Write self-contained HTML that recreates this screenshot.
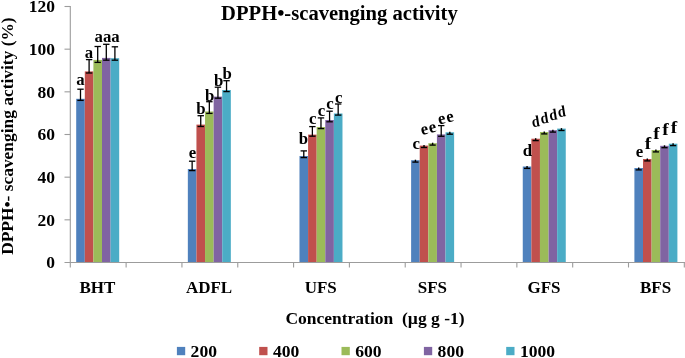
<!DOCTYPE html><html><head><meta charset="utf-8"><style>html,body{margin:0;padding:0;background:#fff;overflow:hidden;width:685px;height:358px;}svg{display:block;will-change:transform;}</style></head><body>
<svg width="685" height="358" viewBox="0 0 685 358">
<rect width="685" height="358" fill="#fff"/>
<rect x="76.20" y="98.80" width="8.60" height="163.70" fill="#4F81BD"/>
<rect x="84.80" y="71.40" width="8.60" height="191.10" fill="#C0504D"/>
<rect x="93.40" y="59.90" width="8.60" height="202.60" fill="#9BBB59"/>
<rect x="102.00" y="57.90" width="8.60" height="204.60" fill="#8064A2"/>
<rect x="110.60" y="58.20" width="8.60" height="204.30" fill="#4BACC6"/>
<rect x="187.84" y="169.00" width="8.60" height="93.50" fill="#4F81BD"/>
<rect x="196.44" y="124.60" width="8.60" height="137.90" fill="#C0504D"/>
<rect x="205.04" y="111.50" width="8.60" height="151.00" fill="#9BBB59"/>
<rect x="213.64" y="96.60" width="8.60" height="165.90" fill="#8064A2"/>
<rect x="222.24" y="90.00" width="8.60" height="172.50" fill="#4BACC6"/>
<rect x="299.48" y="156.00" width="8.60" height="106.50" fill="#4F81BD"/>
<rect x="308.08" y="134.60" width="8.60" height="127.90" fill="#C0504D"/>
<rect x="316.68" y="127.00" width="8.60" height="135.50" fill="#9BBB59"/>
<rect x="325.28" y="120.00" width="8.60" height="142.50" fill="#8064A2"/>
<rect x="333.88" y="113.50" width="8.60" height="149.00" fill="#4BACC6"/>
<rect x="411.12" y="160.20" width="8.60" height="102.30" fill="#4F81BD"/>
<rect x="419.72" y="145.60" width="8.60" height="116.90" fill="#C0504D"/>
<rect x="428.32" y="143.20" width="8.60" height="119.30" fill="#9BBB59"/>
<rect x="436.92" y="134.40" width="8.60" height="128.10" fill="#8064A2"/>
<rect x="445.52" y="132.30" width="8.60" height="130.20" fill="#4BACC6"/>
<rect x="522.76" y="166.50" width="8.60" height="96.00" fill="#4F81BD"/>
<rect x="531.36" y="138.70" width="8.60" height="123.80" fill="#C0504D"/>
<rect x="539.96" y="132.00" width="8.60" height="130.50" fill="#9BBB59"/>
<rect x="548.56" y="130.20" width="8.60" height="132.30" fill="#8064A2"/>
<rect x="557.16" y="128.60" width="8.60" height="133.90" fill="#4BACC6"/>
<rect x="634.40" y="168.00" width="8.60" height="94.50" fill="#4F81BD"/>
<rect x="643.00" y="159.00" width="8.60" height="103.50" fill="#C0504D"/>
<rect x="651.60" y="150.00" width="8.60" height="112.50" fill="#9BBB59"/>
<rect x="660.20" y="145.80" width="8.60" height="116.70" fill="#8064A2"/>
<rect x="668.80" y="143.70" width="8.60" height="118.80" fill="#4BACC6"/>
<g stroke="#9c9c9c" stroke-width="1.1" fill="none">
<line x1="70.3" y1="6" x2="70.3" y2="267.5"/>
<line x1="64.5" y1="262.5" x2="685" y2="262.5"/>
<line x1="64.5" y1="219.83" x2="70.3" y2="219.83"/>
<line x1="64.5" y1="177.17" x2="70.3" y2="177.17"/>
<line x1="64.5" y1="134.50" x2="70.3" y2="134.50"/>
<line x1="64.5" y1="91.83" x2="70.3" y2="91.83"/>
<line x1="64.5" y1="49.17" x2="70.3" y2="49.17"/>
<line x1="64.5" y1="6.50" x2="70.3" y2="6.50"/>
<line x1="126.12" y1="262.5" x2="126.12" y2="267.5"/>
<line x1="181.94" y1="262.5" x2="181.94" y2="267.5"/>
<line x1="237.76" y1="262.5" x2="237.76" y2="267.5"/>
<line x1="293.58" y1="262.5" x2="293.58" y2="267.5"/>
<line x1="349.40" y1="262.5" x2="349.40" y2="267.5"/>
<line x1="405.22" y1="262.5" x2="405.22" y2="267.5"/>
<line x1="461.04" y1="262.5" x2="461.04" y2="267.5"/>
<line x1="516.86" y1="262.5" x2="516.86" y2="267.5"/>
<line x1="572.68" y1="262.5" x2="572.68" y2="267.5"/>
<line x1="628.50" y1="262.5" x2="628.50" y2="267.5"/>
<line x1="684.32" y1="262.5" x2="684.32" y2="267.5"/>
</g>
<g stroke="#000" stroke-width="1.3" fill="none">
<line x1="80.50" y1="89.20" x2="80.50" y2="100.40"/>
<line x1="77.30" y1="89.20" x2="83.70" y2="89.20"/>
<line x1="77.30" y1="100.40" x2="83.70" y2="100.40"/>
<line x1="89.10" y1="59.60" x2="89.10" y2="73.00"/>
<line x1="85.90" y1="59.60" x2="92.30" y2="59.60"/>
<line x1="85.90" y1="73.00" x2="92.30" y2="73.00"/>
<line x1="97.70" y1="46.50" x2="97.70" y2="62.40"/>
<line x1="94.50" y1="46.50" x2="100.90" y2="46.50"/>
<line x1="94.50" y1="62.40" x2="100.90" y2="62.40"/>
<line x1="106.30" y1="44.30" x2="106.30" y2="60.20"/>
<line x1="103.10" y1="44.30" x2="109.50" y2="44.30"/>
<line x1="103.10" y1="60.20" x2="109.50" y2="60.20"/>
<line x1="114.90" y1="46.80" x2="114.90" y2="60.20"/>
<line x1="111.70" y1="46.80" x2="118.10" y2="46.80"/>
<line x1="111.70" y1="60.20" x2="118.10" y2="60.20"/>
<line x1="192.14" y1="161.20" x2="192.14" y2="170.60"/>
<line x1="188.94" y1="161.20" x2="195.34" y2="161.20"/>
<line x1="188.94" y1="170.60" x2="195.34" y2="170.60"/>
<line x1="200.74" y1="115.70" x2="200.74" y2="126.50"/>
<line x1="197.54" y1="115.70" x2="203.94" y2="115.70"/>
<line x1="197.54" y1="126.50" x2="203.94" y2="126.50"/>
<line x1="209.34" y1="101.70" x2="209.34" y2="113.40"/>
<line x1="206.14" y1="101.70" x2="212.54" y2="101.70"/>
<line x1="206.14" y1="113.40" x2="212.54" y2="113.40"/>
<line x1="217.94" y1="87.20" x2="217.94" y2="98.20"/>
<line x1="214.74" y1="87.20" x2="221.14" y2="87.20"/>
<line x1="214.74" y1="98.20" x2="221.14" y2="98.20"/>
<line x1="226.54" y1="80.70" x2="226.54" y2="91.60"/>
<line x1="223.34" y1="80.70" x2="229.74" y2="80.70"/>
<line x1="223.34" y1="91.60" x2="229.74" y2="91.60"/>
<line x1="303.78" y1="150.90" x2="303.78" y2="157.60"/>
<line x1="300.58" y1="150.90" x2="306.98" y2="150.90"/>
<line x1="300.58" y1="157.60" x2="306.98" y2="157.60"/>
<line x1="312.38" y1="126.60" x2="312.38" y2="136.20"/>
<line x1="309.18" y1="126.60" x2="315.58" y2="126.60"/>
<line x1="309.18" y1="136.20" x2="315.58" y2="136.20"/>
<line x1="320.98" y1="117.90" x2="320.98" y2="128.60"/>
<line x1="317.78" y1="117.90" x2="324.18" y2="117.90"/>
<line x1="317.78" y1="128.60" x2="324.18" y2="128.60"/>
<line x1="329.58" y1="111.20" x2="329.58" y2="121.80"/>
<line x1="326.38" y1="111.20" x2="332.78" y2="111.20"/>
<line x1="326.38" y1="121.80" x2="332.78" y2="121.80"/>
<line x1="338.18" y1="104.00" x2="338.18" y2="115.10"/>
<line x1="334.98" y1="104.00" x2="341.38" y2="104.00"/>
<line x1="334.98" y1="115.10" x2="341.38" y2="115.10"/>
<line x1="415.42" y1="159.70" x2="415.42" y2="162.00" stroke-width="1.4"/>
<line x1="412.32" y1="162.10" x2="418.52" y2="162.10" stroke-width="1.35"/>
<line x1="424.02" y1="145.10" x2="424.02" y2="147.40" stroke-width="1.4"/>
<line x1="420.92" y1="147.50" x2="427.12" y2="147.50" stroke-width="1.35"/>
<line x1="432.62" y1="142.70" x2="432.62" y2="145.00" stroke-width="1.4"/>
<line x1="429.52" y1="145.10" x2="435.72" y2="145.10" stroke-width="1.35"/>
<line x1="441.22" y1="125.60" x2="441.22" y2="136.30"/>
<line x1="438.02" y1="125.60" x2="444.42" y2="125.60"/>
<line x1="438.02" y1="136.30" x2="444.42" y2="136.30"/>
<line x1="449.82" y1="131.80" x2="449.82" y2="134.10" stroke-width="1.4"/>
<line x1="446.72" y1="134.20" x2="452.92" y2="134.20" stroke-width="1.35"/>
<line x1="527.06" y1="166.00" x2="527.06" y2="168.30" stroke-width="1.4"/>
<line x1="523.96" y1="168.40" x2="530.16" y2="168.40" stroke-width="1.35"/>
<line x1="535.66" y1="138.20" x2="535.66" y2="140.50" stroke-width="1.4"/>
<line x1="532.56" y1="140.60" x2="538.76" y2="140.60" stroke-width="1.35"/>
<line x1="544.26" y1="131.50" x2="544.26" y2="133.80" stroke-width="1.4"/>
<line x1="541.16" y1="133.90" x2="547.36" y2="133.90" stroke-width="1.35"/>
<line x1="552.86" y1="129.70" x2="552.86" y2="132.00" stroke-width="1.4"/>
<line x1="549.76" y1="132.10" x2="555.96" y2="132.10" stroke-width="1.35"/>
<line x1="561.46" y1="128.10" x2="561.46" y2="130.40" stroke-width="1.4"/>
<line x1="558.36" y1="130.50" x2="564.56" y2="130.50" stroke-width="1.35"/>
<line x1="638.70" y1="167.50" x2="638.70" y2="169.80" stroke-width="1.4"/>
<line x1="635.60" y1="169.90" x2="641.80" y2="169.90" stroke-width="1.35"/>
<line x1="647.30" y1="158.50" x2="647.30" y2="160.80" stroke-width="1.4"/>
<line x1="644.20" y1="160.90" x2="650.40" y2="160.90" stroke-width="1.35"/>
<line x1="655.90" y1="149.50" x2="655.90" y2="151.80" stroke-width="1.4"/>
<line x1="652.80" y1="151.90" x2="659.00" y2="151.90" stroke-width="1.35"/>
<line x1="664.50" y1="145.30" x2="664.50" y2="147.60" stroke-width="1.4"/>
<line x1="661.40" y1="147.70" x2="667.60" y2="147.70" stroke-width="1.35"/>
<line x1="673.10" y1="143.20" x2="673.10" y2="145.50" stroke-width="1.4"/>
<line x1="670.00" y1="145.60" x2="676.20" y2="145.60" stroke-width="1.35"/>
</g>
<g font-family="'Liberation Serif', serif" font-weight="bold" font-size="17.5" fill="#000" text-anchor="end">
<text x="55.0" y="268.30">0</text>
<text x="55.0" y="225.63">20</text>
<text x="55.0" y="182.97">40</text>
<text x="55.0" y="140.30">60</text>
<text x="55.0" y="97.63">80</text>
<text x="55.0" y="54.97">100</text>
<text x="55.0" y="12.30">120</text>
</g>
<g font-family="'Liberation Serif', serif" font-weight="bold" font-size="17" fill="#000" text-anchor="middle">
<text x="97.41" y="293">BHT</text>
<text x="209.05" y="293">ADFL</text>
<text x="320.69" y="293">UFS</text>
<text x="432.33" y="293">SFS</text>
<text x="543.97" y="293">GFS</text>
<text x="655.61" y="293">BFS</text>
</g>
<g font-family="'Liberation Serif', serif" font-weight="bold" font-size="16.8" fill="#000" text-anchor="middle">
<text x="80.5" y="85.1">a</text>
<text x="88.9" y="57.9">a</text>
<text x="107.1" y="41.9">aaa</text>
<text x="192.5" y="157.5">e</text>
<text x="201.0" y="113.9">b</text>
<text x="209.7" y="101.4">b</text>
<text x="218.7" y="85.6">b</text>
<text x="227.1" y="78.9">b</text>
<text x="303.5" y="144.3">b</text>
<text x="312.7" y="124.1">c</text>
<text x="321.6" y="115.5">c</text>
<text x="330.0" y="108.7">c</text>
<text x="338.8" y="102.8">c</text>
<text x="416.2" y="148.6">c</text>
<text x="424.6" y="134.4" transform="rotate(-12 424.6 130.9)">e</text>
<text x="432.6" y="132.4" transform="rotate(-12 432.6 128.9)">e</text>
<text x="442.0" y="123.8" transform="rotate(-12 442.0 120.3)">e</text>
<text x="450.3" y="121.9" transform="rotate(-12 450.3 118.4)">e</text>
<text x="527.4" y="155.6">d</text>
<text x="648.0" y="148.6" transform="translate(648.0 0) scale(1.15 1) translate(-648.0 0)">f</text>
<text x="656.4" y="139.3" transform="translate(656.4 0) scale(1.15 1) translate(-656.4 0)">f</text>
<text x="665.6" y="135.1" transform="translate(665.6 0) scale(1.15 1) translate(-665.6 0)">f</text>
<text x="674.0" y="132.7" transform="translate(674.0 0) scale(1.15 1) translate(-674.0 0)">f</text>
<text x="639.5" y="156.8">e</text>
<text x="535.9" y="126.6" font-size="15.8" transform="translate(535.9 122.6) rotate(-9) scale(0.9 1) translate(-535.9 -122.6)">d</text>
<text x="544.5" y="123.3" font-size="15.8" transform="translate(544.5 119.3) rotate(-9) scale(0.9 1) translate(-544.5 -119.3)">d</text>
<text x="553.2" y="120.0" font-size="15.8" transform="translate(553.2 116.0) rotate(-9) scale(0.9 1) translate(-553.2 -116.0)">d</text>
<text x="561.8" y="116.7" font-size="15.8" transform="translate(561.8 112.7) rotate(-9) scale(0.9 1) translate(-561.8 -112.7)">d</text>
</g>
<text font-family="'Liberation Serif', serif" font-weight="bold" font-size="20.6" x="339.4" y="19.6" text-anchor="middle">DPPH•-scavenging activity</text>
<text font-family="'Liberation Serif', serif" font-weight="bold" font-size="17.7" x="-118.75" y="0" textLength="237.5" lengthAdjust="spacingAndGlyphs" transform="translate(13.1 136.1) rotate(-90)">DPPH•- scavenging activity (%)</text>
<text font-family="'Liberation Serif', serif" font-weight="bold" font-size="17.5" x="375" y="324" text-anchor="middle" xml:space="preserve">Concentration  (µg g -1)</text>
<rect x="176.9" y="346.9" width="8.3" height="8.3" fill="#4F81BD"/>
<text font-family="'Liberation Serif', serif" font-weight="bold" font-size="17.6" x="190.6" y="356.8">200</text>
<rect x="259.2" y="346.9" width="8.3" height="8.3" fill="#C0504D"/>
<text font-family="'Liberation Serif', serif" font-weight="bold" font-size="17.6" x="272.9" y="356.8">400</text>
<rect x="341.5" y="346.9" width="8.3" height="8.3" fill="#9BBB59"/>
<text font-family="'Liberation Serif', serif" font-weight="bold" font-size="17.6" x="355.2" y="356.8">600</text>
<rect x="423.9" y="346.9" width="8.3" height="8.3" fill="#8064A2"/>
<text font-family="'Liberation Serif', serif" font-weight="bold" font-size="17.6" x="437.6" y="356.8">800</text>
<rect x="506.2" y="346.9" width="8.3" height="8.3" fill="#4BACC6"/>
<text font-family="'Liberation Serif', serif" font-weight="bold" font-size="17.6" x="519.9" y="356.8">1000</text>
</svg></body></html>
